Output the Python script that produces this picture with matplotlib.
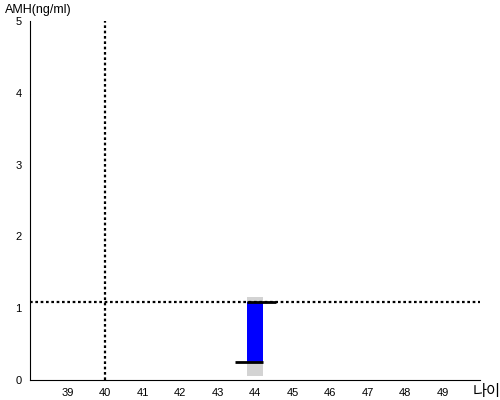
import matplotlib
matplotlib.use('Agg')
import matplotlib.pyplot as plt

plt.rcParams['font.family'] = ['Liberation Sans', 'Noto Sans CJK KR', 'DejaVu Sans']

# data
age = 44
amh_range = (0.06, 1.16)    # grey band
amh_low = 0.25              # blue bar bottom
amh_high = 1.09             # blue bar top / reference line
ref_age = 40
x_ticks = list(range(39, 50))
y_ticks = [0, 1, 2, 3, 4, 5]

fig = plt.figure(figsize=(5, 4), dpi=100)
ax = fig.add_axes([0.06, 0.05, 0.90, 0.8975])

w = 0.43
ax.bar(age, amh_range[1] - amh_range[0], bottom=amh_range[0], width=w,
       color='#d3d3d3', zorder=1)
ax.bar(age, amh_high - amh_low, bottom=amh_low, width=w,
       color='#0000ff', zorder=2)
ax.hlines(amh_high, age - w / 2, age + 0.55, color='black', lw=2, zorder=4)
ax.hlines(amh_low, age - 0.53, age + w / 2, color='black', lw=2, zorder=4)

ax.axhline(amh_high, color='black', ls=(0, (1.2, 1.2)), lw=1.6, zorder=3)
ax.axvline(ref_age, color='black', ls=(0, (1.2, 1.2)), lw=1.6, zorder=3)

ax.set_xlim(38, 50)
ax.set_ylim(0, 5)
ax.set_xticks(x_ticks)
ax.set_yticks(y_ticks)
ax.tick_params(length=0, labelsize=8, pad=6)
ax.spines['top'].set_visible(False)
ax.spines['right'].set_visible(False)

fig.text(0.01, 0.975, 'AMH(ng/ml)', fontsize=9, va='center')
fig.text(0.946, 0.02, '나이', fontsize=11, va='center')

fig.savefig('out.png', dpi=100)
